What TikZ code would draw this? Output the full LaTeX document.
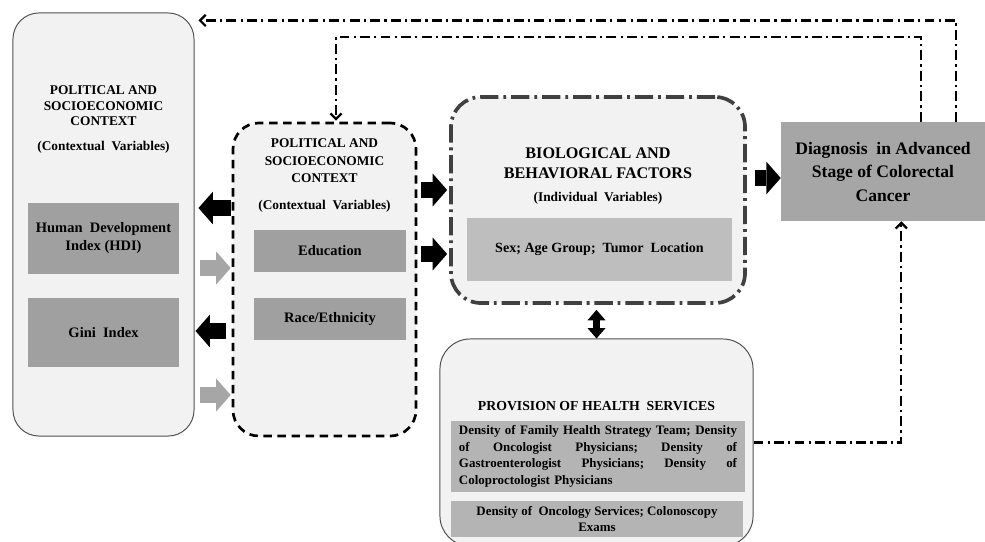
\documentclass[tikz,border=0pt]{standalone}
\usepackage{fontspec}
\setmainfont{Liberation Serif}
\usetikzlibrary{arrows.meta,calc,positioning}
\definecolor{panelfill}{HTML}{F2F2F2}
\definecolor{panelline}{HTML}{505050}
\definecolor{bordergray}{HTML}{404040}
\definecolor{boxdark}{HTML}{A0A0A0}
\definecolor{boxlight}{HTML}{BEBEBE}
\definecolor{boxmid}{HTML}{B4B4B4}
\definecolor{diagfill}{HTML}{A6A6A6}
\definecolor{arrowgray}{HTML}{A6A6A6}
\newcommand\fullline[1]{\makebox[6.95cm][l]{#1}}

\begin{document}
\begin{tikzpicture}[x=0.025cm,y=-0.025cm,
  panel/.style={draw=panelline,line width=0.7pt,fill=panelfill,rounded corners=0.65cm,inner sep=0pt},
  dashpanel/.style={panel,draw=black,line width=1.9pt,dash pattern=on 6pt off 4pt},
  dotpanel/.style={panel,draw=bordergray,line width=2.6pt,rounded corners=0.75cm,dash pattern=on 13pt off 3.5pt on 2pt off 3.5pt},
  head/.style={align=center,font=\bfseries\fontsize{9.5}{11}\selectfont},
  sub/.style={font=\bfseries\fontsize{9.5}{11}\selectfont},
  darkbox/.style={fill=boxdark,inner sep=0pt,align=center,font=\bfseries\fontsize{10.3}{12.8}\selectfont},
  lightbox/.style={fill=boxlight,inner sep=0pt,align=center,font=\bfseries\fontsize{10}{12.8}\selectfont},
  hsbox/.style={fill=boxmid,inner sep=0pt,font=\bfseries\fontsize{9.2}{11.8}\selectfont},
  blockarrow/.style={line width=0.4cm,-{Triangle[length=0.36cm,width=0.82cm,line width=0pt]}},
  dblarrow/.style={line width=0.18cm,{Triangle[length=0.26cm,width=0.45cm,line width=0pt]}-{Triangle[length=0.26cm,width=0.45cm,line width=0pt]}},
  dashdot/.style={line width=1.6pt,dash pattern=on 7pt off 3pt on 1.6pt off 3pt,-{Straight Barb[length=4pt,width=8pt]}}]
\useasboundingbox (0,0) rectangle (985,541);
\clip (0,0) rectangle (985,541);

% panels
\node[panel,minimum width=4.525cm,minimum height=10.575cm] (ctxL) at (103.5,224.5) {};
\node[dashpanel,minimum width=4.575cm,minimum height=7.825cm] (ctxM) at (324.5,279.5) {};
\node[dotpanel,minimum width=7.35cm,minimum height=5.15cm] (bio) at (598,200) {};
\node[panel,rounded corners=0.75cm,minimum width=7.825cm,minimum height=5.175cm] (health) at (596.5,442.5) {};

\node[head] (ctxLhead) at (103.5,106) {POLITICAL AND\\SOCIOECONOMIC\\CONTEXT};
\node[sub] (ctxLsub) at (103.5,147) {(Contextual\ \ Variables)};
\node[darkbox,minimum width=3.775cm,minimum height=1.775cm] (hdi) at (103.5,238.5) {Human\ \ Development\\Index (HDI)};
\node[darkbox,minimum width=3.775cm,minimum height=1.725cm] (gini) at (103.5,332.5) {Gini\ \ Index};

\node[head,font=\bfseries\fontsize{9.5}{12.4}\selectfont] (ctxMhead) at (324.5,161) {POLITICAL AND\\SOCIOECONOMIC\\CONTEXT};
\node[sub] (ctxMsub) at (324.5,206) {(Contextual\ \ Variables)};
\node[darkbox,minimum width=3.8cm,minimum height=1.05cm] (edu) at (330,251) {Education};
\node[darkbox,minimum width=3.8cm,minimum height=1.05cm] (race) at (330,319) {Race/Ethnicity};

\node[head,font=\bfseries\fontsize{11.5}{14.2}\selectfont] (biohead) at (598,163) {BIOLOGICAL AND\\BEHAVIORAL FACTORS};
\node[sub] (biosub) at (598,198) {(Individual\ \ Variables)};
\node[lightbox,minimum width=6.625cm,minimum height=1.575cm] (sex) at (599.5,249.5) {Sex; Age Group;\ \ Tumor\ \ Location};

\node[fill=diagfill,minimum width=5.1cm,minimum height=2.475cm,align=center,font=\bfseries\fontsize{12.5}{16.7}\selectfont] (diag) at (883,171.5) {Diagnosis\ \ in Advanced\\Stage of Colorectal\\Cancer};

\node[head,font=\bfseries\fontsize{9.8}{12}\selectfont] (hshead) at (596.5,406) {PROVISION OF HEALTH\ \ SERVICES};
\node[hsbox,minimum width=7.35cm,minimum height=1.775cm,text width=6.95cm,align=left] (hsdocs) at (598,456.5)
  {\fullline{Density of Family Health Strategy Team;\hfill Density}\\
   \fullline{of\hfill Oncologist\hfill Physicians;\hfill Density\hfill of}\\
   \fullline{Gastroenterologist\hfill Physicians;\hfill Density\hfill of}\\
   Coloproctologist Physicians};
\node[hsbox,minimum width=7.3cm,minimum height=0.9cm,align=center] (hsonco) at (597,519) {Density of\ \ Oncology Services; Colonoscopy\\Exams};

% block arrows
\draw[blockarrow] ($(ctxM.west|-0,208)+(-1,0)$) -- ($(ctxL.east|-0,208)+(4,0)$);
\draw[blockarrow,arrowgray] ($(ctxL.east|-0,268)+(5,0)$) -- ($(ctxM.west|-0,268)+(-1,0)$);
\draw[blockarrow] ($(ctxM.west|-0,331)+(-6,0)$) -- ($(ctxL.east|-0,331)+(1,0)$);
\draw[blockarrow,arrowgray] ($(ctxL.east|-0,395)+(5,0)$) -- ($(ctxM.west|-0,395)+(-1,0)$);
\draw[blockarrow] ($(ctxM.east|-0,190)+(4,0)$) -- ($(bio.west|-0,190)+(-2,0)$);
\draw[blockarrow] ($(ctxM.east|-0,254)+(4,0)$) -- ($(bio.west|-0,254)+(-2,0)$);
\draw[blockarrow] ($(bio.east|-0,178)+(8,0)$) -- (diag.west|-0,178);
\draw[dblarrow] ($(health.north|-bio.south)+(0,5)$) -- (health.north);

% feedback paths
\draw[dashdot] ($(diag.north east)+(-29,0)$) |- ($(ctxL.north east)+(4,8)$);
\draw[dashdot] ($(diag.north east)+(-64,0)$) |- ($(ctxM.north)+(11.5,-85)$) -- ($(ctxM.north)+(11.5,-1)$);
\draw[dashdot] (health.east) -| ($(diag.south east)+(-84,0)$);
\end{tikzpicture}
\end{document}
